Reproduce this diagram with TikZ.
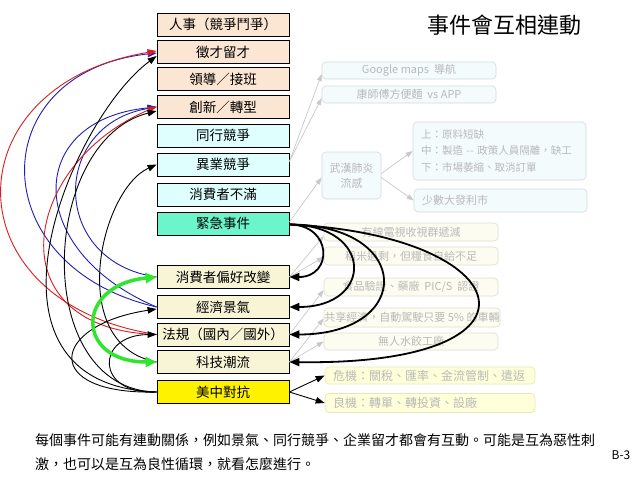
\documentclass[tikz,border=0pt]{standalone}
\usepackage{fontspec}
\newfontfamily\cjk{Noto Sans CJK TC}
\usetikzlibrary{arrows.meta}
\definecolor{peach}{HTML}{FBE5D3}
\definecolor{lcyan}{HTML}{DFFFFF}
\definecolor{aqua}{HTML}{6CF5CA}
\definecolor{lyel}{HTML}{F8F5D6}
\definecolor{gfill}{HTML}{F4FBFC}
\definecolor{gborder}{HTML}{D3DADD}
\definecolor{hfill}{HTML}{FDFCF0}
\definecolor{hborder}{HTML}{DEDDD2}
\definecolor{kfill}{HTML}{FFFFDA}
\definecolor{kborder}{HTML}{E6E6BE}
\definecolor{gtext}{HTML}{B9B9B9}
\definecolor{garrowc}{HTML}{C9C9C9}
\definecolor{myblue}{HTML}{1E1EB4}
\definecolor{myred}{HTML}{DA1E1E}
\definecolor{mygreen}{HTML}{2EE62E}
\tikzset{
  mainbox/.style={draw=black, line width=0.8pt, minimum width=132pt, minimum height=23pt, inner sep=0pt, font=\cjk\fontsize{13.5}{16}\selectfont},
  gbox/.style={draw=gborder, fill=gfill, rounded corners=4pt, line width=0.6pt, inner sep=0pt, text=gtext, font=\cjk\fontsize{11}{14}\selectfont},
  hbox/.style={gbox, draw=hborder, fill=hfill},
  kbox/.style={gbox, draw=kborder, fill=kfill, font=\cjk\fontsize{12}{14}\selectfont},
  garrow/.style={draw=garrowc, line width=0.7pt, -{Triangle[length=7pt,width=5pt]}},
  thinarrow/.style={line width=0.9pt, -{Triangle[length=9pt,width=6.5pt]}},
  bigarrow/.style={line width=1.8pt, -{Triangle[length=10pt,width=8pt]}},
  greenarrow/.style={draw=mygreen, line width=3.5pt, {Triangle[length=11pt,width=10pt]}-{Triangle[length=11pt,width=10pt]}},
}
\begin{document}
\begin{tikzpicture}[x=1pt,y=-1pt]
\useasboundingbox[fill=white] (0,0) rectangle (638,479);

% title
\node[font=\cjk\fontsize{22}{24}\selectfont, inner sep=0pt] (t) at (504,25) {事件會互相連動};

% main boxes
\node[mainbox, fill=peach] (rs) at (223,24.5) {人事（競爭鬥爭）};
\node[mainbox, fill=peach] (zc) at (223,52) {徵才留才};
\node[mainbox, fill=peach] (ld) at (223,79) {領導／接班};
\node[mainbox, fill=peach] (cx) at (223,107) {創新／轉型};
\node[mainbox, fill=lcyan] (th) at (223,135.5) {同行競爭};
\node[mainbox, fill=lcyan] (yy) at (223,164.5) {異業競爭};
\node[mainbox, fill=lcyan] (bm) at (223,194.5) {消費者不滿};
\node[mainbox, fill=aqua] (jj) at (223,223.5) {緊急事件};
\node[mainbox, fill=lyel] (ph) at (223,277) {消費者偏好改變};
\node[mainbox, fill=lyel] (jq) at (223,307) {經濟景氣};
\node[mainbox, fill=lyel] (fg) at (223,334.5) {法規（國內／國外）};
\node[mainbox, fill=lyel] (kj) at (223,362) {科技潮流};
\node[mainbox, fill=yellow] (mz) at (223,392) {美中對抗};

% faded boxes (upper)
\node[gbox, minimum width=174pt, minimum height=17pt] (g1) at (409,70.5) {Google maps\ \ 導航};
\node[gbox, minimum width=174pt, minimum height=17pt] (g2) at (409,94.5) {康師傅方便麵\ \ vs APP};
\node[gbox, minimum width=59pt, minimum height=47pt, align=center, font=\cjk\fontsize{11}{15}\selectfont] (wh) at (351.5,175.5) {武漢肺炎\\流感};
\node[gbox, text width=165pt, inner xsep=4pt, minimum height=58pt, align=left, font=\cjk\fontsize{10.5}{16.5}\selectfont] (g3) at (499.5,151) {\hspace*{4pt}上：原料短缺\\\hspace*{4pt}中：製造 -- 政策人員隔離，缺工\\\hspace*{4pt}下：市場萎縮、取消訂單};
\node[gbox, text width=157pt, inner xsep=8pt, minimum height=23pt, align=left] (g4) at (500.5,200.5) {少數大發利市};

% faded boxes (lower)
\node[hbox, minimum width=174pt, minimum height=18pt] (h1) at (411,232) {有線電視收視群遞減};
\node[hbox, minimum width=174pt, minimum height=18pt] (h2) at (411,256) {稻米過剩，但糧食自給不足};
\node[hbox, minimum width=174pt, minimum height=18pt] (h3) at (411,287) {食品驗證、藥廠\ \ PIC/S\ \ 認證};
\node[hbox, minimum width=176pt, minimum height=19pt] (h4) at (412,317.5) {共享經濟，自動駕駛只要\ 5\%\ 的車輛};
\node[hbox, minimum width=174pt, minimum height=17pt] (h5) at (411,341.5) {無人水餃工廠};
\node[kbox, text width=194pt, inner xsep=8pt, minimum height=17pt, align=left] (k1) at (430,375.5) {危機：關稅、匯率、金流管制、遣返};
\node[kbox, text width=194pt, inner xsep=8pt, minimum height=19pt, align=left] (k2) at (430,403) {良機：轉單、轉投資、設廠};

% gray arrows
\draw[garrow] ([yshift=3pt]yy.east) -- ([yshift=-3.5pt]g1.west);
\draw[garrow] ([yshift=3pt]yy.east) -- ([yshift=-3.5pt]g2.west);
\draw[garrow] ([yshift=1.5pt]jj.east) -- ([yshift=-2pt]wh.west);
\draw[garrow] ([yshift=2pt]wh.east) -- (g3.west);
\draw[garrow] ([yshift=-2pt]wh.east) -- (g4.west);
\draw[garrow] (ph.east) -- ([yshift=-4pt]h1.west);
\draw[garrow] (ph.east) -- ([yshift=-1pt]h2.west);
\draw[garrow] (fg.east) -- ([yshift=-3pt]h3.west);
\draw[garrow] (kj.east) -- ([yshift=-1pt]h4.west);
\draw[garrow] (kj.east) -- (h5.west);

% black arrows to crisis/opportunity
\draw[thinarrow] (mz.east) -- (k1.west);
\draw[thinarrow] (mz.east) -- (k2.west);

% thick black curves from emergency events
\draw[bigarrow] ([yshift=-1pt]jj.east) .. controls (333,225) and (333,277) .. (ph.east);
\draw[bigarrow] ([yshift=-1pt]jj.east) .. controls (374,225) and (374,307) .. (jq.east);
\draw[bigarrow] ([yshift=-1pt]jj.east) .. controls (414,225) and (414,334.5) .. (fg.east);
\draw[bigarrow] ([yshift=-1pt]jj.east) .. controls (520,235) and (560,366) .. (kj.east);

% left side curves: blue
\draw[thinarrow, myblue] (jq.west) .. controls (-18,267) and (-18,72) .. ([yshift=-1pt]zc.west);
\draw[thinarrow, myblue] (jq.west) .. controls (24,251) and (24,120) .. (cx.west);
\draw[thinarrow, myblue] (ph.west) .. controls (50,262) and (50,125) .. (cx.west);
% red
\draw[thinarrow, myred] (fg.west) .. controls (-50,303) and (-50,85) .. ([yshift=1pt]zc.west);
\draw[thinarrow, myred] (fg.west) .. controls (-5,330) and (20,165) .. ([yshift=0.5pt]cx.west);
% black
\draw[thinarrow] (mz.west) .. controls (-40,385) and (70,120) .. ([yshift=-4pt]zc.west);
\draw[thinarrow] (mz.west) .. controls (30,390) and (40,140) .. ([yshift=-4pt]cx.west);
\draw[thinarrow] (kj.west) .. controls (65,345) and (100,190) .. (yy.west);
\draw[thinarrow] (mz.west) .. controls (40,395) and (50,325) .. ([yshift=-2pt]jq.west);
\draw[thinarrow] (mz.west) .. controls (95,395) and (95,335) .. (fg.west);
% green
\draw[greenarrow] (ph.west) .. controls (75,285) and (75,362) .. (kj.west);

% bottom text
\node[anchor=north west, inner sep=0pt, align=left, font=\cjk\fontsize{14}{24.5}\selectfont] (bt) at (35,433) {每個事件可能有連動關係，例如景氣、同行競爭、企業留才都會有互動。可能是互為惡性刺\\激，也可以是互為良性循環，就看怎麼進行。};
\node[inner sep=0pt, font=\cjk\fontsize{12}{14}\selectfont] (pl) at (621,455) {B-3};
\end{tikzpicture}
\end{document}
